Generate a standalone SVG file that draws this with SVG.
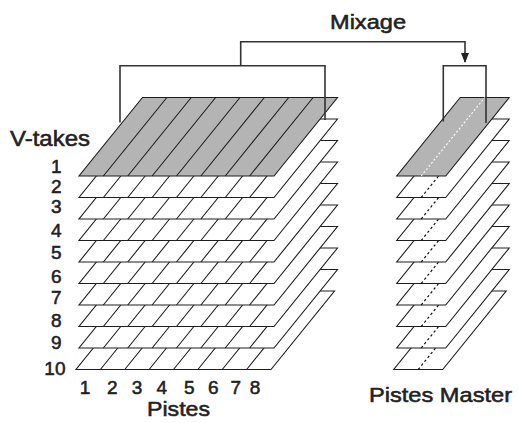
<svg xmlns="http://www.w3.org/2000/svg" xmlns:xlink="http://www.w3.org/1999/xlink" width="518" height="423" viewBox="0 0 518 423">
<style>
.w{fill:#fff;stroke:#1e1e1e;stroke-width:1.1;stroke-linejoin:miter}
.g{fill:#b4b4b4;stroke:#1e1e1e;stroke-width:1.1}
.d{fill:none;stroke:#1e1e1e;stroke-width:1.1}
.dw{fill:none;stroke:#fff;stroke-width:1.1;stroke-dasharray:2 2}
.dk{fill:none;stroke:#111;stroke-width:1.2;stroke-dasharray:2.5 2.5}
.c{fill:none;stroke:#333;stroke-width:1.6}
text{font-family:"Liberation Sans",Arial,sans-serif;fill:#222;stroke:#222;stroke-width:0.55}
.t{font-size:21px}
.n{font-size:19px;text-anchor:end}
.p{font-size:19px;text-anchor:middle}
</style>
<defs>
<path id="lo" d="M0 0H195L258.5 -78.5H63.5Z"/>
<path id="ld" d="M24.375 0l63.5 -78.5M48.75 0l63.5 -78.5M73.125 0l63.5 -78.5M97.5 0l63.5 -78.5M121.875 0l63.5 -78.5M146.25 0l63.5 -78.5M170.625 0l63.5 -78.5"/>
<path id="ro" d="M0 0H49L112.5 -78.5H63.5Z"/>
<path id="rd" d="M24.5 0L88 -78.5"/>
<marker id="ah" markerWidth="10" markerHeight="8" refX="9" refY="4" orient="auto" markerUnits="userSpaceOnUse" viewBox="0 0 10 8">
<path d="M0 0L10 4L0 8Z" fill="#222"/>
</marker>
</defs>

<g id="left-stack">
<g id="take10" transform="translate(76 369.5)"><use xlink:href="#lo" class="w"/><use xlink:href="#ld" class="d"/></g>
<g id="take9" transform="translate(79 348)"><use xlink:href="#lo" class="w"/><use xlink:href="#ld" class="d"/></g>
<g id="take8" transform="translate(79 326.5)"><use xlink:href="#lo" class="w"/><use xlink:href="#ld" class="d"/></g>
<g id="take7" transform="translate(79 305)"><use xlink:href="#lo" class="w"/><use xlink:href="#ld" class="d"/></g>
<g id="take6" transform="translate(79 283.5)"><use xlink:href="#lo" class="w"/><use xlink:href="#ld" class="d"/></g>
<g id="take5" transform="translate(79 262)"><use xlink:href="#lo" class="w"/><use xlink:href="#ld" class="d"/></g>
<g id="take4" transform="translate(79 240.5)"><use xlink:href="#lo" class="w"/><use xlink:href="#ld" class="d"/></g>
<g id="take3" transform="translate(79 219)"><use xlink:href="#lo" class="w"/><use xlink:href="#ld" class="d"/></g>
<g id="take2" transform="translate(79 197.5)"><use xlink:href="#lo" class="w"/><use xlink:href="#ld" class="d"/></g>
<g id="take1" transform="translate(79 176)"><use xlink:href="#lo" class="g"/><use xlink:href="#ld" class="d"/></g>
</g>

<g id="right-stack">
<g id="master10" transform="translate(393.7 369.5)"><use xlink:href="#ro" class="w"/><use xlink:href="#rd" class="dk"/></g>
<g id="master9" transform="translate(396.7 348)"><use xlink:href="#ro" class="w"/><use xlink:href="#rd" class="dk"/></g>
<g id="master8" transform="translate(396.7 326.5)"><use xlink:href="#ro" class="w"/><use xlink:href="#rd" class="dk"/></g>
<g id="master7" transform="translate(396.7 305)"><use xlink:href="#ro" class="w"/><use xlink:href="#rd" class="dk"/></g>
<g id="master6" transform="translate(396.7 283.5)"><use xlink:href="#ro" class="w"/><use xlink:href="#rd" class="dk"/></g>
<g id="master5" transform="translate(396.7 262)"><use xlink:href="#ro" class="w"/><use xlink:href="#rd" class="dk"/></g>
<g id="master4" transform="translate(396.7 240.5)"><use xlink:href="#ro" class="w"/><use xlink:href="#rd" class="dk"/></g>
<g id="master3" transform="translate(396.7 219)"><use xlink:href="#ro" class="w"/><use xlink:href="#rd" class="dk"/></g>
<g id="master2" transform="translate(396.7 197.5)"><use xlink:href="#ro" class="w"/><use xlink:href="#rd" class="dk"/></g>
<g id="master1" transform="translate(396.7 176)"><use xlink:href="#ro" class="g"/><use xlink:href="#rd" class="dw"/></g>
</g>

<g id="connectors">
<path class="c" d="M120 122.5V65.7H325V120"/>
<path class="c" d="M443.3 121.5V65.7H486V123"/>
<path class="c" d="M240.7 65.7V41.7H465V62" marker-end="url(#ah)"/>
</g>

<g id="labels">
<text class="t" x="330" y="29.3" textLength="76" lengthAdjust="spacingAndGlyphs">Mixage</text>
<text class="t" x="10" y="146" style="font-size:22px" textLength="80" lengthAdjust="spacingAndGlyphs">V-takes</text>
<text class="n" x="61.5" y="172.5">1</text>
<text class="n" x="61.5" y="193">2</text>
<text class="n" x="61.5" y="212.5">3</text>
<text class="n" x="61.5" y="236.7">4</text>
<text class="n" x="61.5" y="259">5</text>
<text class="n" x="61.5" y="282.7">6</text>
<text class="n" x="61.5" y="304.3">7</text>
<text class="n" x="61.5" y="326.7">8</text>
<text class="n" x="61.5" y="349.3">9</text>
<text class="n" x="65.5" y="375">10</text>
<text class="p" x="85" y="393.5">1</text>
<text class="p" x="112.3" y="393.5">2</text>
<text class="p" x="137" y="393.5">3</text>
<text class="p" x="161.7" y="393.5">4</text>
<text class="p" x="189.2" y="393.5">5</text>
<text class="p" x="213.3" y="393.5">6</text>
<text class="p" x="235.9" y="393.5">7</text>
<text class="p" x="255" y="393.5">8</text>
<text class="t" x="147" y="415.7" textLength="63" lengthAdjust="spacingAndGlyphs">Pistes</text>
<text class="t" x="369" y="401.7" textLength="143" lengthAdjust="spacingAndGlyphs">Pistes Master</text>
</g>
</svg>
